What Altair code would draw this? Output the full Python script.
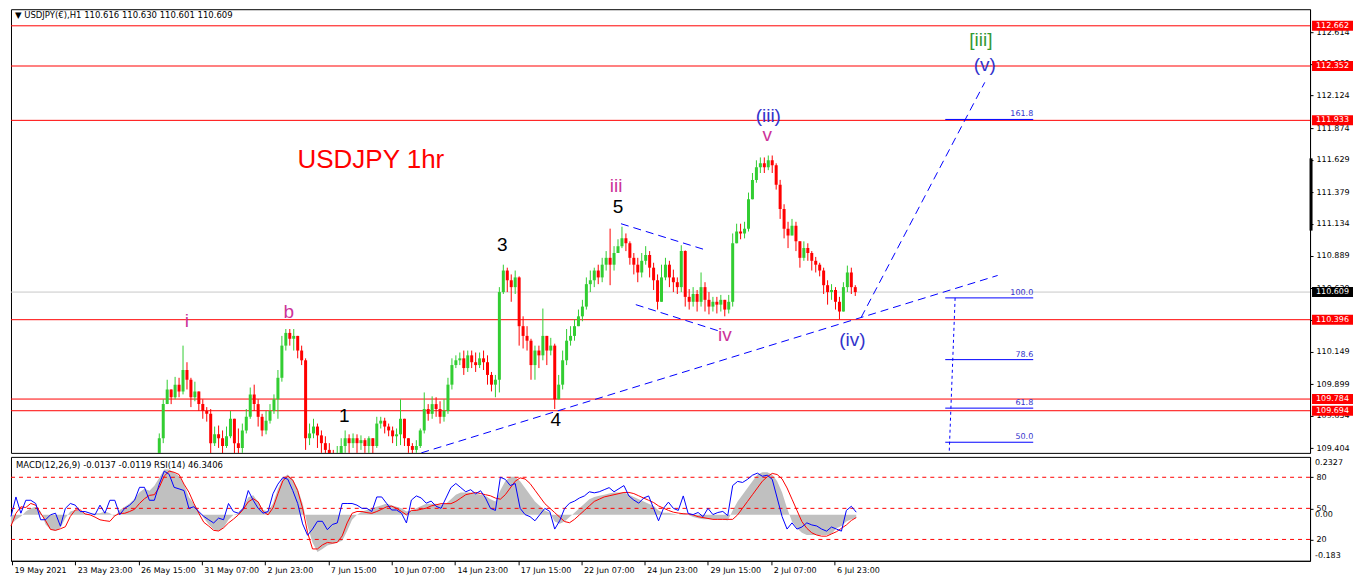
import altair as alt
import pandas as pd
import numpy as np

W = 1300
H1 = 444
H2 = 104

# ---------------- price candles (bar index ~ hourly position) ----------------
bar_x = list(range(150, 858, 4))
open_first = 109.256
close = [109.482, 109.745, 109.858, 109.798, 109.895, 109.843, 110.008, 109.933, 109.798, 109.843,
         109.745, 109.692, 109.670, 109.444, 109.512, 109.482, 109.422, 109.497, 109.632, 109.444,
         109.407, 109.542, 109.647, 109.820, 109.745, 109.647, 109.542, 109.617, 109.692, 109.782,
         109.948, 110.196, 110.294, 110.249, 110.271, 110.158, 110.083, 109.482, 109.519, 109.572,
         109.504, 109.444, 109.392, 109.331, 109.316, 109.346, 109.422, 109.482, 109.444, 109.482,
         109.444, 109.467, 109.422, 109.482, 109.422, 109.595, 109.617, 109.572, 109.542, 109.497,
         109.512, 109.632, 109.482, 109.422, 109.392, 109.422, 109.542, 109.707, 109.670, 109.745,
         109.707, 109.647, 109.692, 109.895, 110.046, 110.083, 110.098, 110.023, 110.121, 110.068,
         110.046, 110.098, 110.068, 109.970, 109.895, 109.933, 110.609, 110.775, 110.700, 110.647,
         110.722, 110.346, 110.271, 110.234, 110.046, 110.158, 110.121, 110.271, 110.158, 110.196,
         109.782, 109.895, 110.083, 110.234, 110.271, 110.346, 110.422, 110.497, 110.670, 110.700,
         110.775, 110.722, 110.820, 110.873, 110.820, 110.910, 110.963, 111.023, 110.985, 110.873,
         110.820, 110.760, 110.850, 110.895, 110.797, 110.700, 110.534, 110.722, 110.820, 110.722,
         110.685, 110.647, 110.925, 110.572, 110.534, 110.594, 110.534, 110.647, 110.549, 110.497,
         110.534, 110.512, 110.549, 110.474, 110.534, 110.985, 111.076, 111.061, 111.098, 111.324,
         111.474, 111.572, 111.602, 111.572, 111.625, 111.587, 111.437, 111.249, 111.098, 111.046,
         111.121, 111.000, 110.873, 110.948, 110.910, 110.850, 110.820, 110.775, 110.662, 110.609,
         110.625, 110.534, 110.459, 110.647, 110.760, 110.647, 110.609]
high = [109.519, 109.782, 109.933, 109.858, 109.955, 109.948, 110.196, 110.068, 109.948, 109.918,
        109.843, 109.782, 109.722, 109.707, 109.572, 109.580, 109.542, 109.572, 109.692, 109.632,
        109.557, 109.595, 109.707, 109.873, 109.895, 109.782, 109.670, 109.692, 109.745, 109.820,
        110.008, 110.271, 110.324, 110.324, 110.324, 110.249, 110.196, 110.098, 109.595, 109.632,
        109.595, 109.542, 109.497, 109.444, 109.392, 109.422, 109.482, 109.542, 109.512, 109.519,
        109.512, 109.504, 109.482, 109.497, 109.482, 109.647, 109.647, 109.640, 109.595, 109.572,
        109.557, 109.782, 109.632, 109.482, 109.444, 109.467, 109.557, 109.835, 109.745, 109.805,
        109.798, 109.767, 109.782, 109.948, 110.098, 110.121, 110.143, 110.158, 110.158, 110.158,
        110.143, 110.143, 110.158, 110.121, 109.993, 109.970, 110.647, 110.820, 110.797, 110.745,
        110.775, 110.730, 110.422, 110.346, 110.249, 110.196, 110.196, 110.482, 110.271, 110.256,
        110.211, 109.970, 110.158, 110.324, 110.346, 110.399, 110.474, 110.549, 110.722, 110.775,
        110.797, 110.820, 110.873, 110.925, 111.098, 110.963, 111.016, 111.113, 111.061, 111.000,
        110.910, 110.873, 110.910, 110.963, 110.925, 110.835, 110.745, 110.820, 110.873, 110.850,
        110.782, 110.722, 110.970, 110.930, 110.632, 110.647, 110.625, 110.760, 110.685, 110.609,
        110.572, 110.572, 110.587, 110.549, 110.587, 111.061, 111.136, 111.136, 111.151, 111.376,
        111.527, 111.625, 111.647, 111.647, 111.662, 111.662, 111.602, 111.474, 111.286, 111.151,
        111.173, 111.151, 110.985, 111.000, 110.985, 110.925, 110.880, 110.835, 110.797, 110.700,
        110.670, 110.647, 110.572, 110.685, 110.813, 110.797, 110.662]
low = [109.256, 109.444, 109.745, 109.745, 109.782, 109.798, 109.820, 109.858, 109.722, 109.767,
       109.692, 109.632, 109.610, 109.331, 109.422, 109.407, 109.331, 109.407, 109.482, 109.316,
       109.331, 109.369, 109.519, 109.632, 109.692, 109.572, 109.497, 109.512, 109.595, 109.670,
       109.632, 109.918, 110.158, 110.196, 110.158, 110.098, 110.046, 109.392, 109.429, 109.482,
       109.407, 109.369, 109.294, 109.256, 109.241, 109.256, 109.346, 109.369, 109.369, 109.407,
       109.369, 109.392, 109.369, 109.369, 109.346, 109.407, 109.557, 109.519, 109.497, 109.444,
       109.422, 109.429, 109.422, 109.369, 109.331, 109.369, 109.407, 109.519, 109.617, 109.632,
       109.647, 109.595, 109.610, 109.670, 109.858, 110.023, 110.046, 109.970, 109.993, 110.023,
       109.993, 110.023, 110.008, 109.895, 109.843, 109.798, 109.835, 110.594, 110.609, 110.534,
       110.594, 110.196, 110.174, 110.158, 109.933, 109.933, 110.023, 110.083, 110.046, 110.121,
       109.707, 109.782, 109.858, 110.046, 110.196, 110.234, 110.346, 110.384, 110.474, 110.609,
       110.647, 110.670, 110.685, 110.775, 110.662, 110.775, 110.910, 110.948, 110.925, 110.820,
       110.745, 110.685, 110.722, 110.820, 110.722, 110.625, 110.474, 110.549, 110.700, 110.647,
       110.609, 110.594, 110.609, 110.497, 110.474, 110.497, 110.459, 110.497, 110.459, 110.437,
       110.459, 110.444, 110.459, 110.422, 110.444, 110.497, 110.985, 111.016, 111.023, 111.076,
       111.346, 111.452, 111.527, 111.527, 111.549, 111.527, 111.399, 111.173, 111.023, 110.948,
       111.061, 110.925, 110.797, 110.850, 110.850, 110.775, 110.760, 110.730, 110.594, 110.512,
       110.549, 110.474, 110.399, 110.497, 110.609, 110.594, 110.579]

# ---------------- indicators (MACD 12,26,9 and RSI 14) ----------------
ind_x = list(range(0, 860, 5))
rsi = [42.2, 61, 45.3, 57.8, 57.8, 54.7, 39, 39, 43.8, 45.3,
       32.8, 50, 54.7, 53.1, 46.9, 46.9, 45.3, 43.8, 53.1, 45.3,
       57.8, 57.8, 43.8, 50, 53.1, 57.8, 70.3, 70.3, 57.8, 57.8,
       73.4, 85.9, 82.8, 70.3, 68.8, 67.2, 50, 51.6, 46.9, 42.2,
       39, 35.9, 40.6, 39, 54.7, 46.9, 45.3, 50, 67.2, 57.8,
       50, 45.3, 46.9, 64.1, 73.4, 79.7, 78.1, 67.2, 54.7, 35,
       24, 30, 37.5, 37.5, 29.4, 34.4, 35.9, 54.7, 54.7, 54.7,
       53.1, 50, 50, 46.9, 61, 61, 54.7, 48.4, 48.4, 45.3,
       35.9,
       58, 62, 60, 55, 57, 52, 50, 60, 70, 74,
       70, 66, 68, 64, 67, 60, 50, 48, 80, 78,
       72, 74, 50, 44, 42, 38, 44, 50, 47, 30,
       38, 50, 55, 57, 60, 62, 66, 65, 66, 68,
       70, 66, 69, 72, 62, 58, 55, 60, 62, 50,
       38, 50, 56, 50, 48, 62, 45, 44, 46, 42,
       50, 44, 46, 47, 43, 72, 76, 75, 78, 82,
       84, 81, 82, 78, 60, 42, 30, 36, 30, 32,
       36, 34, 33, 30, 28, 32, 30, 28, 48, 52,
       46.3]
macd = [-0.043, -0.022, -0.007, 0.015, 0.029, 0.036, 0.015, -0.043, -0.065, -0.072,
        -0.058, -0.014, 0.015, 0.022, 0.015, 0.007, 0.0, 0.007, 0.007, 0.015,
        0.007, -0.007, 0.022, 0.036, 0.051, 0.072, 0.101, 0.116, 0.108, 0.130,
        0.166, 0.202, 0.202, 0.188, 0.173, 0.137, 0.079, 0.051, 0.015, -0.014,
        -0.043, -0.065, -0.072, -0.058, -0.022, 0.0, 0.007, 0.036, 0.079, 0.087,
        0.058, 0.022, 0.015, 0.051, 0.116, 0.166, 0.180, 0.159, 0.116, 0.051,
        -0.051, -0.123, -0.166, -0.152, -0.137, -0.130, -0.123, -0.115, -0.072, -0.022,
        0.0, 0.015, 0.022, 0.029, 0.036, 0.043, 0.051, 0.043, 0.036, 0.029,
        0.015,
        0.02, 0.03, 0.04, 0.05, 0.05, 0.05, 0.045, 0.05, 0.07, 0.09,
        0.10, 0.10, 0.10, 0.095, 0.09, 0.085, 0.07, 0.06, 0.11, 0.15,
        0.17, 0.17, 0.15, 0.12, 0.09, 0.06, 0.04, 0.02, 0.01, -0.03,
        -0.04, -0.03, -0.01, 0.01, 0.03, 0.05, 0.07, 0.08, 0.085, 0.09,
        0.095, 0.10, 0.10, 0.10, 0.09, 0.08, 0.07, 0.06, 0.05, 0.04,
        0.02, 0.01, 0.01, 0.005, 0.0, 0.01, 0.0, -0.01, -0.015, -0.02,
        -0.02, -0.02, -0.02, -0.02, -0.025, 0.02, 0.06, 0.09, 0.12, 0.15,
        0.18, 0.19, 0.19, 0.18, 0.15, 0.10, 0.03, -0.03, -0.06, -0.08,
        -0.09, -0.09, -0.09, -0.09, -0.09, -0.085, -0.06, -0.05, -0.03, -0.02,
        -0.014]
signal = [-0.050, 0.007, 0.036, 0.033, 0.051, 0.043, 0.007, -0.026, -0.065, -0.069,
          -0.062, -0.053, -0.007, 0.022, 0.022, 0.004, 0.0, -0.010, -0.022, -0.026,
          -0.029, -0.004, 0.007, 0.007, 0.015, 0.025, 0.051, 0.072, 0.087, 0.090,
          0.123, 0.173, 0.195, 0.190, 0.180, 0.137, 0.101, 0.051, 0.007, -0.033,
          -0.050, -0.069, -0.072, -0.058, -0.036, -0.019, 0.0, 0.025, 0.058, 0.072,
          0.058, 0.015, 0.0, 0.031, 0.094, 0.152, 0.173, 0.155, 0.108, 0.029,
          -0.079, -0.152, -0.152, -0.134, -0.123, -0.126, -0.123, -0.094, -0.036, 0.007,
          0.015, 0.015, 0.010, 0.007, 0.015, 0.025, 0.036, 0.039, 0.029, 0.015,
          0.0,
          0.02, 0.02, 0.025, 0.03, 0.04, 0.045, 0.05, 0.05, 0.05, 0.06,
          0.075, 0.09, 0.095, 0.10, 0.095, 0.09, 0.085, 0.075, 0.07, 0.09,
          0.12, 0.15, 0.165, 0.16, 0.14, 0.11, 0.08, 0.05, 0.03, 0.01,
          -0.01, -0.03, -0.035, -0.02, 0.0, 0.02, 0.04, 0.06, 0.07, 0.08,
          0.085, 0.09, 0.095, 0.10, 0.10, 0.095, 0.085, 0.075, 0.065, 0.055,
          0.04, 0.03, 0.02, 0.012, 0.008, 0.005, 0.004, 0.0, -0.008, -0.012,
          -0.016, -0.02, -0.02, -0.02, -0.02, -0.02, 0.0, 0.03, 0.06, 0.09,
          0.12, 0.15, 0.17, 0.185, 0.18, 0.16, 0.12, 0.07, 0.02, -0.03,
          -0.06, -0.08, -0.09, -0.095, -0.095, -0.085, -0.075, -0.06, -0.045, -0.025,
          -0.012]
rsi_levels = [80, 50, 20]
macd_label_vals = [0.2327, 0.0, -0.183]
macd_label_text = ['0.2327', '0.00', '-0.183']

# ---------------- horizontal levels, axis ticks ----------------
red_levels = [112.662, 112.352, 111.933, 110.396, 109.784, 109.694]
last_price = [110.609]
price_ticks = [112.614, 112.369, 112.124, 111.874, 111.629, 111.379, 111.134, 110.889,
               110.639, 110.394, 110.149, 109.899, 109.654, 109.404]
date_ticks = [1, 65, 129, 193, 257, 321, 385, 449, 513, 577, 641, 705, 769, 833]
date_labels = ['19 May 2021', '23 May 23:00', '26 May 15:00', '31 May 07:00', '2 Jun 23:00',
               '7 Jun 15:00', '10 Jun 07:00', '14 Jun 23:00', '17 Jun 15:00', '22 Jun 07:00',
               '24 Jun 23:00', '29 Jun 15:00', '2 Jul 07:00', '6 Jul 23:00']

# ---------------- drawn objects ----------------
trend_x1 = [415, 860, 617, 632]
trend_p1 = [109.369, 110.414, 111.136, 110.512]
trend_x2 = [998, 985, 700, 716]
trend_p2 = [110.737, 112.226, 110.940, 110.309]

fib_names = ['161.8', '100.0', '78.6', '61.8', '50.0']
fib_p = [111.940, 110.564, 110.088, 109.714, 109.451]
fib_x1 = [945] * 5
fib_x2 = [1034] * 5
fib_vert = {'x1': [955], 'p1': [110.564], 'x2': [949], 'p2': [109.369]}

MAG, BLU, GRN, BLK = '#CC3399', '#3333CC', '#339933', '#000000'
wave_text = ['i', 'b', '1', '3', '4', '5', 'iii', 'iv', 'v', '(iii)', '(iv)', '(v)', '[iii]']
wave_x = [178, 281, 337, 497, 551, 614, 612, 722, 765, 766, 851, 985, 981]
wave_p = [110.384, 110.452, 109.655, 110.970, 109.625, 111.264, 111.429, 110.279, 111.820,
          111.963, 110.241, 112.361, 112.549]
wave_color = [MAG, MAG, BLK, BLK, BLK, BLK, MAG, MAG, MAG, BLU, BLU, BLU, GRN]

# ---------------- frames ----------------
cdf = pd.DataFrame({'x': bar_x, 'close': close, 'high': high, 'low': low})
cdf['open'] = [open_first] + close[:-1]
cdf['hi'] = cdf[['high', 'open', 'close']].max(axis=1)
cdf['lo'] = cdf[['low', 'open', 'close']].min(axis=1)
cdf['dir'] = np.where(cdf['close'] >= cdf['open'], 'up', 'down')

idf = pd.DataFrame({'x': ind_x, 'rsi': rsi, 'macd': macd, 'signal': signal})

XS = alt.Scale(domain=[0, 1314], nice=False, zero=False)
YP = alt.Scale(domain=[109.369, 112.79], nice=False, zero=False)
MS = alt.Scale(domain=[-0.2049, 0.2587], nice=False, zero=False)
RS = alt.Scale(domain=[-0.625, 99.69], nice=False, zero=False)

FONT = 'DejaVu Sans'
price_axis = alt.Axis(orient='right', values=price_ticks, format='.3f', title=None, grid=False,
                      labelFont=FONT, labelFontSize=8, labelColor='black', tickColor='black',
                      domainColor='black', tickSize=3, labelPadding=3, labelOverlap=False,
                      labelFlush=False)
label_expr = '[' + ','.join("'%s'" % s for s in date_labels) + '][floor((datum.value - 1) / 64)]'
date_axis = alt.Axis(values=date_ticks, labelExpr=label_expr, labelAlign='left', labelBaseline='top',
                     labelFont=FONT, labelFontSize=8, labelColor='black', tickColor='black',
                     domainColor='black', tickSize=4, labelPadding=2, labelOffset=2,
                     labelFlush=False, labelOverlap=False, grid=False, title=None)
rsi_axis = alt.Axis(orient='right', values=rsi_levels, title=None, grid=False, labelFont=FONT,
                    labelFontSize=8, labelColor='black', tickColor='black', domainColor='black',
                    tickSize=3, labelPadding=3, labelFlush=False)


def PX(f='x'):
    return alt.X(f + ':Q', scale=XS, axis=None, title=None)


def PY(f):
    return alt.Y(f + ':Q', scale=YP, axis=price_axis, title=None)


one = pd.DataFrame({'a': [0]})
candle_color = alt.Color('dir:N', scale=alt.Scale(domain=['up', 'down'], range=['#32CD32', '#FF0000']),
                         legend=None)

l_red = alt.Chart(pd.DataFrame({'p': red_levels})).mark_rule(color='#FF0000', strokeWidth=1).encode(y=PY('p'))
l_last = alt.Chart(pd.DataFrame({'p': last_price})).mark_rule(color='#C8C8C8', strokeWidth=1).encode(y=PY('p'))
wick = alt.Chart(cdf).mark_rule(strokeWidth=1, clip=True).encode(x=PX(), y=PY('lo'), y2='hi', color=candle_color)
body = alt.Chart(cdf).mark_rule(strokeWidth=3, clip=True).encode(x=PX(), y=PY('open'), y2='close', color=candle_color)

tdf = pd.DataFrame({'x1': trend_x1, 'p1': trend_p1, 'x2': trend_x2, 'p2': trend_p2})
trend = alt.Chart(tdf).mark_rule(color='#0000FF', strokeWidth=1, strokeDash=[8, 5], clip=True).encode(
    x=PX('x1'), x2='x2', y=PY('p1'), y2='p2')

fdf = pd.DataFrame({'t': fib_names, 'p': fib_p, 'x1': fib_x1, 'x2': fib_x2})
fib_lines = alt.Chart(fdf).mark_rule(color='#0000FF', strokeWidth=1).encode(x=PX('x1'), x2='x2', y=PY('p'))
fib_text = alt.Chart(fdf).mark_text(align='right', baseline='bottom', dy=-1, font=FONT, fontSize=8,
                                    color='#3333CC').encode(x=PX('x2'), y=PY('p'), text='t:N')
fib_v = alt.Chart(pd.DataFrame(fib_vert)).mark_rule(color='#0000FF', strokeDash=[3, 3], clip=True).encode(
    x=PX('x1'), x2='x2', y=PY('p1'), y2='p2')

wdf = pd.DataFrame({'x': wave_x, 'p': wave_p, 't': wave_text, 'c': wave_color})
waves = alt.Chart(wdf).mark_text(font='Liberation Sans', fontSize=19, align='center', baseline='middle').encode(
    x=PX(), y=PY('p'), text='t:N', color=alt.Color('c:N', scale=None))
title = alt.Chart(pd.DataFrame({'x': [364], 'p': [111.625], 't': ['USDJPY 1hr']})).mark_text(
    font='Liberation Sans', fontSize=26, color='#FF0000', align='center', baseline='middle').encode(
    x=PX(), y=PY('p'), text='t:N')
header = alt.Chart(one).mark_text(font=FONT, fontSize=8.5, align='left', baseline='middle', color='black').encode(
    x=alt.value(4), y=alt.value(6), text=alt.value('\u25BC USDJPY(\u20AC),H1  110.616 110.630 110.601 110.609'))

BOX = 'M-1,-0.244L1,-0.244L1,0.244L-1,0.244Z'
bx = W + 2 + 20.5
box_red = alt.Chart(pd.DataFrame({'p': red_levels})).mark_point(shape=BOX, size=1681, filled=True, opacity=1,
                                                                 color='#FF0000', strokeWidth=0).encode(
    x=alt.value(bx), y=PY('p'))
box_red_t = alt.Chart(pd.DataFrame({'p': red_levels})).mark_text(font=FONT, fontSize=8, color='white',
                                                                  align='center', baseline='middle').encode(
    x=alt.value(bx), y=PY('p'), text=alt.Text('p:Q', format='.3f'))
box_last = alt.Chart(pd.DataFrame({'p': last_price})).mark_point(shape=BOX, size=1681, filled=True, opacity=1,
                                                                  color='#000000', strokeWidth=0).encode(
    x=alt.value(bx), y=PY('p'))
box_last_t = alt.Chart(pd.DataFrame({'p': last_price})).mark_text(font=FONT, fontSize=8, color='white',
                                                                   align='center', baseline='middle').encode(
    x=alt.value(bx), y=PY('p'), text=alt.Text('p:Q', format='.3f'))
scroll_bar = alt.Chart(pd.DataFrame({'p1': [111.640], 'p2': [111.083]})).mark_rule(
    color='black', strokeWidth=3).encode(x=alt.value(W + 1), y=PY('p1'), y2='p2')

top = alt.layer(l_red, l_last, wick, body, trend, fib_lines, fib_v, fib_text, waves, title, header,
                box_red, box_last, box_red_t, box_last_t, scroll_bar).properties(width=W, height=H1)


def BX(f='x'):
    return alt.X(f + ':Q', scale=XS, axis=date_axis, title=None)


hist = alt.Chart(idf).mark_area(color='#C0C0C0', opacity=1).encode(
    x=BX(), y=alt.Y('macd:Q', scale=MS, axis=None, title=None), y2=alt.datum(0))
sig = alt.Chart(idf).mark_line(color='#FF0000', strokeWidth=1).encode(
    x=BX(), y=alt.Y('signal:Q', scale=MS, axis=None, title=None))
lv = alt.Chart(pd.DataFrame({'v': rsi_levels})).mark_rule(color='#FF0000', strokeWidth=1, strokeDash=[4, 4]).encode(
    y=alt.Y('v:Q', scale=RS, axis=None, title=None))
rsi_line = alt.Chart(idf).mark_line(color='#0000FF', strokeWidth=1).encode(
    x=BX(), y=alt.Y('rsi:Q', scale=RS, axis=rsi_axis, title=None))
mlab = alt.Chart(pd.DataFrame({'v': macd_label_vals, 't': macd_label_text})).mark_text(
    font=FONT, fontSize=8, align='left', baseline='middle', color='black').encode(
    x=alt.value(W + 5), y=alt.Y('v:Q', scale=MS, axis=None, title=None), text='t:N')
header2 = alt.Chart(one).mark_text(font=FONT, fontSize=8.5, align='left', baseline='middle', color='black').encode(
    x=alt.value(5), y=alt.value(8), text=alt.value('MACD(12,26,9) -0.0137 -0.0119  RSI(14) 46.3406'))

bottom = alt.layer(hist, sig, lv, rsi_line, mlab, header2).resolve_scale(y='independent').properties(
    width=W, height=H2)

chart = alt.vconcat(top, bottom, spacing=2, padding={'left': 0, 'top': 0, 'right': 0, 'bottom': 0},
                    background='white').configure_view(stroke='black', strokeWidth=1)

chart.save('out.html', embed_options={'renderer': 'svg', 'actions': False})
